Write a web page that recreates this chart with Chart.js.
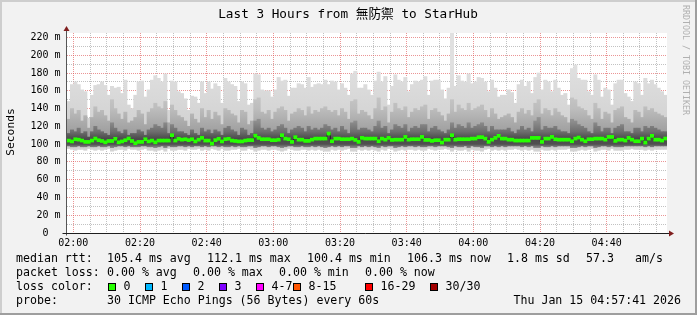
<!DOCTYPE html>
<html>
<head>
<meta charset="utf-8">
<script src="https://cdn.jsdelivr.net/npm/chart.js@4.4.1/dist/chart.umd.min.js"></script>
<style>
  html, body { margin: 0; padding: 0; background: #f2f2f2; }
  canvas { display: block; }
</style>
</head>
<body>
<canvas id="smoke" width="697" height="315"></canvas>
<script>
// one ping round per minute, first column starts at 01:58:06
const startMinute = 118.1;
const tickLabels = ['02:00', '02:20', '02:40', '03:00', '03:20', '03:40', '04:00', '04:20', '04:40'];

// median rtt (ms) per minute
const median = [
  104, 103, 105.5, 105, 104, 102.5, 102.5, 104, 106.3, 104.4,
  103.5, 102, 103.5, 103.5, 106, 102, 103, 104.4, 106.3, 103.5,
  101, 102.5, 102.5, 105.5, 103, 104, 102, 104, 104, 104,
  104, 110, 104, 106, 105, 105.5, 104.5, 105.5, 103, 105,
  107, 104, 104, 100.6, 104.5, 106, 103, 105.5, 106, 104,
  103.5, 103, 103, 104, 104.5, 104.5, 109.5, 107, 105.5, 105.5,
  105.5, 104.4, 104.4, 105, 110, 106.2, 105.5, 102.5, 107.8, 105,
  105, 103.6, 103.6, 105, 106.2, 106.2, 106.2, 106.2, 111.9, 103.2,
  106.2, 106.2, 105.5, 105.5, 105.5, 106.2, 104.7, 102.5, 107, 106.2,
  106.2, 106.2, 106.2, 103.2, 106.2, 105, 107, 104.7, 105, 105,
  105, 108.1, 105, 105.5, 105.5, 105.5, 108.1, 104.7, 104.7, 103.6,
  104.4, 104.4, 101.7, 105, 105, 110, 105, 105.5, 105.5, 105.5,
  105.5, 106.2, 106.2, 107.8, 107.8, 106.2, 102.5, 105, 107, 109.3,
  106.2, 106.2, 105, 105, 104, 104, 104, 104, 104, 107,
  107, 107, 102.5, 106.2, 106.2, 108.1, 105.5, 105, 105, 105,
  105, 103.2, 106.2, 107.4, 105, 103.2, 105.5, 105.5, 106.2, 106.2,
  106.2, 105, 108.1, 108.1, 103.6, 105, 105, 104, 107, 105,
  103.2, 103.2, 106.2, 101.7, 106.2, 109.3, 105, 105, 104, 106.3
];

// smoke: slowest ping of the round
const smokeMax = [
  148, 167, 170, 167, 161, 159, 129, 155, 166, 167,
  170, 166, 155, 165, 163, 164, 157, 172, 144, 140,
  155, 170, 171, 153, 161, 172, 177, 174, 170, 179,
  138, 171, 170, 159, 157, 151, 138, 154, 153, 146,
  170, 157, 170, 162, 168, 165, 146, 174, 170, 167,
  165, 148, 170, 168, 144, 146, 179, 178, 161, 160,
  160, 153, 161, 175, 171, 172, 154, 163, 163, 168,
  167, 163, 175, 164, 167, 168, 167, 172, 167, 171,
  170, 161, 168, 163, 155, 179, 182, 163, 163, 167,
  161, 155, 171, 181, 170, 176, 144, 165, 178, 172,
  170, 175, 159, 167, 171, 170, 172, 176, 155, 171,
  172, 172, 161, 151, 163, 226, 165, 177, 171, 170,
  179, 168, 170, 175, 174, 170, 159, 172, 163, 153,
  155, 155, 161, 158, 146, 167, 172, 165, 170, 157,
  175, 180, 161, 172, 170, 159, 172, 163, 155, 157,
  144, 185, 189, 174, 172, 172, 159, 155, 178, 172,
  153, 163, 161, 144, 168, 172, 172, 157, 153, 148,
  170, 168, 155, 174, 168, 172, 167, 163, 159, 155
];

// smoke: upper edge of the middle pings
const midTop = [
  128, 140, 134, 138, 126, 132, 118, 130, 142, 136,
  138, 132, 126, 150, 140, 134, 128, 136, 124, 126,
  130, 138, 134, 122, 136, 140, 146, 142, 140, 148,
  124, 144, 138, 132, 130, 126, 120, 134, 128, 124,
  140, 130, 138, 128, 136, 132, 122, 140, 138, 134,
  132, 124, 138, 136, 122, 126, 150, 152, 136, 134,
  138, 128, 136, 140, 142, 138, 126, 134, 136, 140,
  138, 132, 142, 134, 138, 136, 140, 142, 138, 136,
  138, 132, 140, 136, 128, 148, 150, 134, 138, 136,
  132, 128, 140, 152, 138, 142, 124, 136, 146, 140,
  138, 142, 130, 136, 140, 138, 142, 144, 128, 138,
  140, 136, 132, 126, 134, 150, 136, 144, 140, 138,
  146, 138, 140, 142, 144, 138, 130, 140, 134, 128,
  130, 132, 134, 130, 124, 136, 140, 134, 138, 132,
  146, 150, 134, 140, 138, 132, 140, 136, 132, 130,
  124, 152, 150, 142, 140, 138, 132, 128, 146, 140,
  128, 136, 134, 124, 138, 140, 142, 130, 128, 124,
  138, 136, 130, 142, 138, 140, 136, 134, 132, 130
];

// smoke: upper edge of the pings closest to the median
const darkTop = [
  112, 116, 114, 118, 112, 114, 108, 114, 120, 116,
  114, 112, 110, 124, 118, 114, 112, 116, 110, 112,
  112, 116, 114, 110, 116, 118, 122, 120, 118, 124,
  112, 122, 118, 114, 114, 112, 110, 116, 112, 110,
  118, 114, 116, 112, 116, 114, 110, 118, 120, 116,
  114, 110, 118, 116, 110, 112, 126, 128, 118, 116,
  118, 114, 116, 120, 122, 118, 112, 116, 118, 120,
  118, 114, 120, 116, 118, 116, 118, 122, 120, 116,
  118, 114, 120, 116, 112, 124, 126, 116, 118, 118,
  116, 114, 120, 126, 118, 120, 112, 116, 122, 120,
  118, 122, 114, 118, 120, 118, 122, 122, 114, 118,
  120, 116, 114, 112, 116, 124, 118, 122, 120, 118,
  124, 118, 120, 122, 124, 120, 114, 120, 116, 116,
  116, 116, 118, 114, 112, 116, 120, 116, 118, 114,
  126, 130, 116, 120, 118, 118, 120, 116, 114, 114,
  112, 128, 126, 122, 120, 118, 114, 112, 124, 120,
  114, 118, 118, 112, 118, 120, 122, 114, 114, 112,
  118, 118, 114, 120, 118, 120, 118, 116, 114, 114
];

// smoke: lower edge of the middle pings
const smokeLow = [
  98, 97, 97, 98, 97, 97, 98, 97, 97, 98,
  97, 97, 98, 96, 97, 98, 98, 97, 98, 97,
  97, 97, 98, 98, 97, 97, 96, 97, 98, 96,
  98, 97, 97, 98, 98, 97, 98, 97, 98, 98,
  97, 98, 97, 98, 98, 97, 98, 97, 97, 98,
  97, 98, 97, 97, 98, 98, 96, 97, 98, 98,
  97, 98, 98, 97, 96, 97, 98, 98, 97, 97,
  98, 97, 97, 98, 97, 98, 97, 96, 97, 98,
  97, 98, 97, 98, 98, 96, 96, 98, 97, 98,
  97, 98, 97, 96, 98, 97, 98, 98, 96, 97,
  98, 97, 98, 98, 97, 98, 97, 97, 98, 98,
  97, 98, 98, 98, 97, 96, 98, 97, 97, 98,
  96, 98, 97, 97, 96, 98, 98, 97, 98, 97,
  98, 97, 98, 98, 98, 98, 97, 98, 97, 98,
  96, 96, 98, 97, 97, 98, 97, 98, 98, 98,
  98, 96, 96, 97, 98, 97, 98, 98, 96, 97,
  98, 98, 97, 98, 97, 97, 97, 98, 98, 98,
  98, 98, 98, 97, 98, 97, 98, 98, 98, 98
];

// smoke: fastest ping of the round
const smokeMin = [
  95, 94, 93, 94, 94, 93, 95, 94, 93, 94,
  93, 94, 95, 92, 93, 94, 94, 93, 95, 94,
  94, 93, 94, 95, 93, 93, 92, 93, 94, 92,
  95, 93, 93, 94, 94, 93, 95, 94, 94, 95,
  93, 94, 93, 95, 94, 93, 95, 93, 93, 94,
  94, 95, 93, 93, 95, 94, 92, 93, 94, 94,
  93, 94, 94, 93, 92, 93, 95, 94, 93, 93,
  94, 94, 93, 94, 93, 94, 93, 92, 92, 94,
  93, 94, 93, 94, 95, 92, 92, 94, 93, 94,
  93, 94, 93, 92, 94, 93, 95, 94, 92, 93,
  94, 93, 94, 94, 93, 94, 93, 93, 95, 94,
  93, 94, 94, 95, 94, 92, 94, 93, 93, 94,
  92, 94, 93, 93, 92, 94, 95, 93, 94, 93,
  94, 93, 94, 94, 95, 94, 93, 94, 93, 94,
  92, 92, 94, 93, 93, 94, 93, 94, 94, 94,
  95, 92, 92, 93, 94, 93, 94, 95, 92, 93,
  94, 94, 93, 95, 93, 93, 93, 94, 94, 95,
  94, 94, 94, 93, 94, 93, 94, 94, 94, 94
];

const rttStats = [
  [107, '105.4 ms avg'], [207, '112.1 ms max'], [307, '100.4 ms min'],
  [407, '106.3 ms now'], [507, '1.8 ms sd'], [586, '57.3'], [635, 'am/s']
];
const lossStats = [[107, '0.00 % avg'], [193, '0.00 % max'], [279, '0.00 % min'], [365, '0.00 % now']];
const lossLabels = ['0', '1', '2', '3', '4-7', '8-15', '16-29', '30/30'];
const lossColors = ['#26ff00', '#00b8ff', '#0059ff', '#7e00ff', '#ff00ff', '#ff5500', '#ff0000', '#a10000'];
const lossBoxX = [108.5, 145.5, 182.5, 219.5, 256.5, 293.5, 365.5, 430.5];

const MONO = 'DejaVu Sans Mono, "Noto Sans CJK TC", monospace';
const GRID = 'rgba(143,143,143,0.55)';
const MGRID = 'rgba(222,79,79,0.6)';
const LOSS_HALF = 1.7; // half height of the loss-coloured median bar, in ms

const xs = median.map((_, i) => startMinute + 0.5 + i);
const band = (lo, hi) => xs.map((x, i) => ({ x: x, y: [lo[i], hi[i]] }));
const medianBar = xs.map((x, i) => ({ x: x, y: [median[i] - LOSS_HALF, median[i] + LOSS_HALF] }));

// vertical shading of the smoke: darker close to the median, lighter further out
function shade(stops, fallback) {
  return (c) => {
    const chart = c.chart;
    if (!chart.chartArea) return fallback;
    const y = chart.scales.y;
    const g = chart.ctx.createLinearGradient(0, y.getPixelForValue(90), 0, y.getPixelForValue(190));
    stops.forEach(([v, col]) => g.addColorStop((v - 90) / 100, col));
    return g;
  };
}

const frame = {
  id: 'frame',
  beforeDraw(chart) {
    const { ctx, chartArea: a } = chart;
    ctx.save();
    ctx.fillStyle = '#f2f2f2';
    ctx.fillRect(0, 0, chart.width, chart.height);
    ctx.fillStyle = '#ffffff';
    ctx.fillRect(a.left, a.top, a.right - a.left, a.bottom - a.top);
    ctx.restore();
  },
  afterDraw(chart) {
    const { ctx, chartArea: a } = chart;
    const x0 = Math.round(a.left) - 0.5;
    const y0 = Math.round(a.bottom) + 0.5;
    ctx.save();

    // axes
    ctx.lineWidth = 1;
    ctx.strokeStyle = '#555555';
    ctx.beginPath(); ctx.moveTo(x0, a.top - 2); ctx.lineTo(x0, y0 + 2); ctx.stroke();
    ctx.strokeStyle = '#1f1f1f';
    ctx.beginPath(); ctx.moveTo(x0 - 4, y0); ctx.lineTo(a.right + 2, y0); ctx.stroke();

    // arrows
    ctx.fillStyle = 'rgb(128,31,31)';
    ctx.beginPath(); ctx.moveTo(x0 - 3, a.top - 2); ctx.lineTo(x0 + 3, a.top - 2); ctx.lineTo(x0, a.top - 7); ctx.closePath(); ctx.fill();
    ctx.beginPath(); ctx.moveTo(a.right + 2, y0 - 3); ctx.lineTo(a.right + 2, y0 + 3); ctx.lineTo(a.right + 7, y0); ctx.closePath(); ctx.fill();

    // title and axis label
    ctx.fillStyle = '#000000';
    ctx.textBaseline = 'middle';
    ctx.textAlign = 'center';
    ctx.font = '12.7px ' + MONO;
    ctx.fillText('Last 3 Hours from 無防禦 to StarHub', 348, 15);

    ctx.font = '11.3px ' + MONO;
    ctx.save();
    ctx.translate(11, 132);
    ctx.rotate(-Math.PI / 2);
    ctx.fillText('Seconds', 0, 0);
    ctx.restore();

    ctx.save();
    ctx.fillStyle = '#b0b0b0';
    ctx.font = '8.3px ' + MONO;
    ctx.textAlign = 'left';
    ctx.translate(685, 5);
    ctx.rotate(Math.PI / 2);
    ctx.fillText('RRDTOOL / TOBI OETIKER', 0, 0);
    ctx.restore();

    // legend
    ctx.textAlign = 'left';
    ctx.font = '11.6px ' + MONO;
    ctx.fillText('median rtt:', 16, 259);
    rttStats.forEach(([x, t]) => ctx.fillText(t, x, 259));
    ctx.fillText('packet loss:', 16, 273);
    lossStats.forEach(([x, t]) => ctx.fillText(t, x, 273));
    ctx.fillText('loss color:', 16, 287);
    lossLabels.forEach((t, i) => {
      ctx.fillStyle = lossColors[i];
      ctx.fillRect(lossBoxX[i], 283.5, 7, 7);
      ctx.strokeStyle = '#000000';
      ctx.strokeRect(lossBoxX[i], 283.5, 7, 7);
      ctx.fillStyle = '#000000';
      ctx.fillText(t, lossBoxX[i] + 15, 287);
    });
    ctx.fillText('probe:', 16, 301);
    ctx.fillText('30 ICMP Echo Pings (56 Bytes) every 60s', 107, 301);
    ctx.textAlign = 'right';
    ctx.fillText('Thu Jan 15 04:57:41 2026', 681, 301);

    // 3d frame
    ctx.fillStyle = '#cecece';
    ctx.fillRect(0, 0, chart.width, 2);
    ctx.fillRect(0, 0, 2, chart.height);
    ctx.fillStyle = '#9e9e9e';
    ctx.fillRect(0, chart.height - 2, chart.width, 2);
    ctx.fillRect(chart.width - 2, 0, 2, chart.height);
    ctx.restore();
  }
};

new Chart(document.getElementById('smoke'), {
  type: 'bar',
  data: {
    datasets: [
      { type: 'line', label: 'median', data: xs.map((x, i) => ({ x: x, y: median[i] })),
        borderColor: '#202020', borderWidth: 1, pointRadius: 0, stepped: 'middle', order: 2 },
      { label: 'loss 0', data: medianBar, backgroundColor: lossColors[0], order: 1 },
      { label: 'inner', data: band(smokeLow, darkTop), order: 3,
        backgroundColor: shade([[96, '#8a8a8a'], [100, '#505050'], [106, '#4a4a4a'], [114, '#6e6e6e'], [125, '#8c8c8c'], [135, '#9a9a9a']], '#6a6a6a') },
      { label: 'middle', data: band(smokeLow, midTop), order: 4,
        backgroundColor: shade([[96, '#a8a8a8'], [110, '#9c9c9c'], [125, '#ababab'], [140, '#bdbdbd'], [155, '#c6c6c6']], '#b0b0b0') },
      { label: 'outer', data: band(smokeMin, smokeMax), order: 5,
        backgroundColor: shade([[92, '#d4d4d4'], [100, '#cdcdcd'], [130, '#d4d4d4'], [170, '#dcdcdc'], [190, '#e0e0e0']], '#d8d8d8') }
    ]
  },
  options: {
    responsive: false,
    animation: false,
    events: [],
    layout: { padding: { top: 33, right: 30, left: 0, bottom: 0 } },
    plugins: { legend: { display: false }, tooltip: { enabled: false } },
    datasets: { bar: { grouped: false, barPercentage: 1, categoryPercentage: 1, borderWidth: 0 } },
    scales: {
      x: {
        type: 'linear',
        min: startMinute,
        max: startMinute + 180,
        offset: false,
        z: 1,
        afterBuildTicks(scale) {
          const t = [];
          for (let v = 120; v < startMinute + 180; v += 5) t.push({ value: v });
          scale.ticks = t;
        },
        afterFit(scale) { scale.height = 82; },
        grid: {
          offset: false,
          drawTicks: false,
          color: (c) => (c.tick.value % 20 === 0 ? MGRID : GRID)
        },
        border: { display: false, dash: [1, 1] },
        ticks: {
          autoSkip: false,
          maxRotation: 0,
          padding: 4,
          color: '#000000',
          font: { family: MONO, size: 10 },
          callback: (v) => (v % 20 === 0 ? tickLabels[(v - 120) / 20] : '')
        }
      },
      y: {
        min: 0,
        max: 225,
        z: 1,
        afterBuildTicks(scale) {
          const t = [];
          for (let v = 0; v <= 220; v += 10) t.push({ value: v });
          scale.ticks = t;
        },
        afterFit(scale) { scale.width = 67; },
        grid: {
          drawTicks: false,
          color: (c) => (c.tick.value === 0 ? 'rgba(0,0,0,0)' : c.tick.value % 20 === 0 ? MGRID : GRID)
        },
        border: { display: false, dash: [1, 1] },
        ticks: {
          autoSkip: false,
          padding: 6.5,
          color: '#000000',
          font: { family: MONO, size: 10 },
          callback: (v) => (v % 20 !== 0 ? '' : v === 0 ? '0  ' : v + ' m')
        }
      }
    }
  },
  plugins: [frame]
});
</script>
</body>
</html>
